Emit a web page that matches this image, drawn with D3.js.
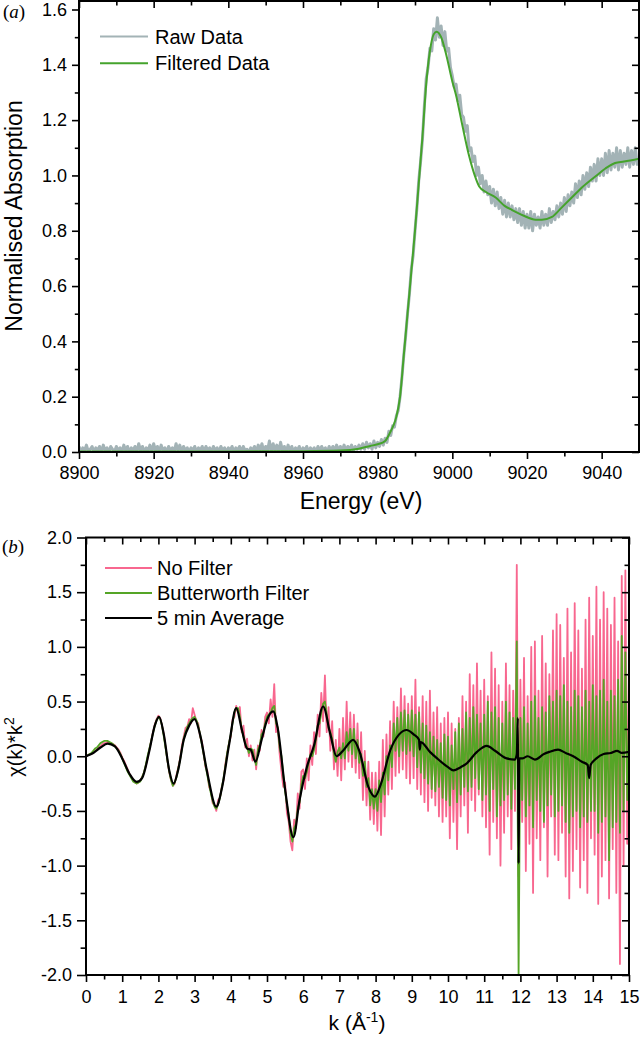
<!DOCTYPE html>
<html>
<head>
<meta charset="utf-8">
<script src="https://d3js.org/d3.v7.min.js"></script>
<style>
  body { margin: 0; background: #fff; }
  text { font-family: "Liberation Sans", Arial, sans-serif; }
</style>
</head>
<body>
<script>
// ---- panel (a) data ----  (raw sampled every 0.5 eV)
var energies = d3.range(0, 301).map(function(i) { return 8900 + i / 2; });
var rawAbs = [
  0.02,0.0,0.015,0.005,0.025,0.0,0.01,0.02,0.0,0.015,0.005,0.02,0.0,0.025,0.005,0.015,0.0,0.02,0.01,0.0,
  0.02,0.005,0.015,0.0,0.025,0.005,0.02,0.0,0.015,0.005,0.02,0.0,0.03,0.005,0.02,0.0,0.015,0.005,0.025,0.0,
  0.03,0.005,0.02,0.0,0.025,0.005,0.015,0.0,0.02,0.005,0.015,0.0,0.03,0.005,0.025,0.0,0.02,0.005,0.015,0.0,
  0.015,0.005,0.02,0.0,0.015,0.005,0.02,0.0,0.02,0.005,0.015,0.0,0.02,0.005,0.015,0.0,0.02,0.005,0.015,0.0,
  0.015,0.005,0.02,0.0,0.015,0.005,0.02,0.0,0.02,0.005,0.01,0.0,0.015,0.005,0.02,0.0,0.025,0.005,0.03,0.0,
  0.02,0.005,0.04,0.0,0.03,0.005,0.025,0.0,0.035,0.005,0.02,0.0,0.025,0.005,0.02,0.0,0.015,0.005,0.02,0.0,
  0.015,0.005,0.02,0.0,0.015,0.005,0.015,0.0,0.02,0.005,0.02,0.005,0.015,0.0,0.02,0.005,0.02,0.005,0.025,0.005,
  0.02,0.005,0.025,0.005,0.02,0.01,0.025,0.005,0.02,0.01,0.025,0.01,0.03,0.01,0.035,0.015,0.03,0.01,0.04,0.015,
  0.035,0.02,0.045,0.025,0.05,0.035,0.075,0.06,0.095,0.09,0.13,0.15,0.2,0.27,0.35,0.42,0.5,0.57,0.66,0.71,
  0.8,0.88,0.98,1.05,1.13,1.25,1.35,1.39,1.46,1.45,1.53,1.49,1.57,1.5,1.54,1.47,1.52,1.45,1.46,1.39,
  1.36,1.32,1.33,1.27,1.29,1.22,1.21,1.16,1.18,1.09,1.1,1.05,1.07,1.0,1.03,0.97,1.0,0.94,0.98,0.93,
  0.96,0.9,0.95,0.89,0.94,0.88,0.92,0.86,0.91,0.85,0.9,0.85,0.89,0.84,0.88,0.83,0.88,0.82,0.87,0.81,
  0.86,0.81,0.87,0.8,0.86,0.82,0.85,0.81,0.87,0.82,0.86,0.82,0.88,0.83,0.87,0.84,0.89,0.85,0.9,0.86,
  0.92,0.87,0.93,0.89,0.94,0.9,0.97,0.92,0.98,0.93,1.0,0.95,1.01,0.96,1.03,0.98,1.04,0.98,1.06,1.0,
  1.06,1.0,1.08,1.01,1.09,1.02,1.08,1.03,1.1,1.02,1.09,1.03,1.08,1.04,1.1,1.03,1.09,1.04,1.1,1.04,
  1.06
];
var filtEnergy = [8900,8940,8960,8970,8975,8978,8980,8982,8983.2,8984.2,8985,8986,8987,8988,8989,8990,8991,8992,8993,8994,8995,8995.8,8997,8998.3,9000,9001,9002.7,9004.5,9006,9007.2,9009,9011.6,9014,9016,9019,9022.3,9024,9026.7,9029,9032,9035,9038.3,9041,9043.6,9046,9050];
var filtAbs = [0.002,0.002,0.003,0.005,0.012,0.022,0.028,0.04,0.067,0.095,0.127,0.2,0.35,0.5,0.65,0.8,0.97,1.14,1.33,1.45,1.51,1.52,1.5,1.44,1.34,1.29,1.18,1.07,1.0,0.96,0.94,0.92,0.89,0.875,0.855,0.84,0.84,0.85,0.88,0.92,0.96,0.996,1.025,1.045,1.05,1.06];
var energyTicks = [8900, 8920, 8940, 8960, 8980, 9000, 9020, 9040];
var energyMinor = [8910, 8930, 8950, 8970, 8990, 9010, 9030];
var absTicks = [0, 0.2, 0.4, 0.6, 0.8, 1.0, 1.2, 1.4, 1.6];
var absMinor = [0.1, 0.3, 0.5, 0.7, 0.9, 1.1, 1.3, 1.5];
var legendA = ["Raw Data", "Filtered Data"];

// ---- panel (b) data ----  (noisy spectra sampled every 0.05 in k)
var kGrid = d3.range(0, 301).map(function(i) { return i / 20; });
var noFilter = [
  0,0.01,0.02,0.02,0.03,0.05,0.06,0.08,0.09,0.11,0.12,0.12,0.13,0.12,0.12,0.11,0.1,0.08,0.06,0.03,
  -0.01,-0.04,-0.08,-0.12,-0.16,-0.19,-0.22,-0.24,-0.25,-0.24,-0.22,-0.19,-0.15,-0.09,-0.02,0.06,0.14,0.22,0.29,0.34,
  0.37,0.35,0.28,0.2,0.08,-0.04,-0.15,-0.22,-0.27,-0.25,-0.17,-0.1,-0.02,0.1,0.18,0.26,0.27,0.34,0.3,0.44,
  0.38,0.32,0.3,0.18,0.14,0.02,-0.1,-0.13,-0.28,-0.32,-0.43,-0.45,-0.5,-0.4,-0.38,-0.28,-0.22,-0.07,0.03,0.12,
  0.18,0.34,0.36,0.46,0.4,0.45,0.22,0.28,0.08,0.16,0.0,0.1,-0.04,0.06,-0.12,0.1,0.05,0.24,0.18,0.36,
  0.4,0.3,0.52,0.36,0.66,0.22,0.25,0.02,-0.14,-0.28,-0.24,-0.52,-0.6,-0.78,-0.86,-0.58,-0.66,-0.34,-0.48,-0.14,
  -0.12,-0.3,-0.02,-0.22,0.1,-0.08,0.22,0.02,0.38,0.18,0.58,0.32,0.74,0.22,0.45,0.05,0.32,-0.12,0.15,-0.18,
  0.25,-0.22,0.35,-0.12,0.5,-0.05,0.4,-0.1,0.38,-0.15,0.3,-0.2,0.22,-0.4,0.05,-0.45,-0.05,-0.58,-0.15,-0.62,
  -0.15,-0.68,-0.05,-0.72,0.15,-0.55,0.2,-0.35,0.32,-0.3,0.5,-0.18,0.45,-0.15,0.62,-0.12,0.55,-0.2,0.48,-0.25,
  0.55,-0.2,0.7,-0.3,0.45,-0.35,0.55,-0.42,0.5,-0.5,0.6,-0.38,0.4,-0.45,0.45,-0.55,0.3,-0.6,0.35,-0.55,
  0.4,-0.75,0.3,-0.6,0.25,-0.85,0.35,-0.55,0.55,-0.45,0.5,-0.7,0.75,-0.4,0.65,-0.5,0.85,-0.35,0.6,-0.55,
  0.7,-0.65,0.55,-0.9,0.95,-0.6,0.8,-0.75,0.65,-1.0,0.5,-0.7,0.85,-0.55,0.65,-0.85,0.6,-0.5,1.75,-1.1,
  0.7,-0.6,0.9,-1.05,0.55,-0.8,1.0,-1.25,1.05,-0.75,0.6,-0.95,1.1,-0.65,0.85,-1.1,0.75,-0.55,1.15,-0.9,
  1.3,-0.95,1.2,-0.7,0.9,-1.1,1.35,-1.3,0.95,-1.05,1.4,-0.85,1.15,-1.2,0.8,-0.95,1.25,-1.25,1.45,-0.75,
  1.1,-0.9,1.55,-1.35,1.25,-1.1,1.5,-0.95,1.35,-1.3,1.2,-0.85,1.45,-1.25,1.05,-1.9,1.65,-1.0,1.7,-0.8,
  0.9
];
var butterworth = [
  0,0.01,0.02,0.03,0.05,0.07,0.08,0.1,0.12,0.13,0.14,0.14,0.14,0.13,0.12,0.11,0.09,0.07,0.05,0.02,
  -0.02,-0.06,-0.1,-0.14,-0.17,-0.2,-0.23,-0.24,-0.25,-0.24,-0.23,-0.19,-0.15,-0.08,0.0,0.07,0.14,0.21,0.28,0.33,
  0.36,0.34,0.28,0.18,0.07,-0.04,-0.14,-0.22,-0.27,-0.24,-0.19,-0.11,-0.03,0.07,0.16,0.22,0.27,0.3,0.33,0.35,
  0.36,0.33,0.28,0.2,0.11,0.02,-0.08,-0.17,-0.26,-0.34,-0.41,-0.46,-0.48,-0.44,-0.38,-0.29,-0.2,-0.09,0.03,0.12,
  0.2,0.31,0.4,0.44,0.44,0.36,0.25,0.18,0.12,0.08,0.03,0.07,0.06,-0.02,-0.08,0.06,0.1,0.2,0.22,0.3,
  0.36,0.38,0.4,0.44,0.46,0.3,0.26,0.08,0.0,-0.18,-0.32,-0.44,-0.54,-0.7,-0.78,-0.66,-0.62,-0.48,-0.42,-0.26,
  -0.18,-0.2,-0.14,-0.06,0.02,0.0,0.06,0.15,0.28,0.3,0.4,0.48,0.5,0.38,0.26,0.22,0.16,0.02,-0.05,0.04,
  0.08,-0.02,0.12,-0.02,0.22,0.05,0.25,0.02,0.25,-0.02,0.15,-0.06,0.02,-0.18,-0.05,-0.28,-0.2,-0.45,-0.3,-0.48,
  -0.3,-0.5,-0.22,-0.42,-0.15,-0.35,0.0,-0.22,0.1,-0.1,0.3,0.05,0.35,0.0,0.4,0.05,0.42,0.02,0.38,0.05,
  0.42,0.0,0.38,-0.1,0.4,-0.15,0.3,-0.2,0.28,-0.25,0.22,-0.3,0.18,-0.32,0.15,-0.28,0.12,-0.38,0.2,-0.4,
  0.18,-0.45,0.1,-0.3,0.22,-0.42,0.3,-0.35,0.25,-0.28,0.4,-0.32,0.35,-0.28,0.45,-0.2,0.38,-0.3,0.3,-0.4,
  0.38,-0.35,0.5,-0.5,0.4,-0.3,0.45,-0.55,0.35,-0.45,0.3,-0.4,0.5,-0.35,0.4,-0.48,0.35,-0.3,1.05,-2.0,
  0.35,-0.4,0.45,-0.55,0.3,-0.45,0.5,-0.65,0.55,-0.4,0.35,-0.5,0.45,-0.6,0.4,-0.45,0.55,-0.35,0.5,-0.55,
  0.6,-0.5,0.55,-0.45,0.65,-0.6,0.5,-0.7,0.45,-0.55,0.6,-0.5,0.55,-0.65,0.45,-0.55,0.6,-0.6,0.5,-0.5,
  0.65,-0.5,0.55,-0.7,0.6,-0.6,0.7,-0.55,0.5,-0.95,0.6,-0.65,0.55,-0.6,0.7,-0.7,1.1,-0.5,0.95,-0.4,
  0.3
];
var kAvg = [0,0.2,0.4,0.6,0.8,1.0,1.2,1.4,1.55,1.75,1.9,2.02,2.15,2.3,2.42,2.55,2.7,2.85,3.0,3.15,3.35,3.6,3.75,3.95,4.15,4.3,4.45,4.55,4.68,4.85,5.0,5.17,5.3,5.5,5.73,5.9,6.1,6.3,6.55,6.75,6.92,7.1,7.38,7.55,7.8,7.98,8.15,8.4,8.65,8.86,9.05,9.2,9.22,9.25,9.5,9.7,10.0,10.15,10.35,10.5,10.8,11.07,11.3,11.62,11.85,11.9,11.93,11.95,11.97,12.05,12.2,12.4,12.65,12.8,13.04,13.25,13.46,13.7,13.86,13.9,13.94,14.1,14.3,14.5,14.67,14.8,15.0];
var avgChi = [0,0.03,0.08,0.115,0.09,-0.02,-0.16,-0.235,-0.2,0.05,0.28,0.36,0.2,-0.13,-0.25,-0.12,0.15,0.28,0.34,0.2,-0.15,-0.46,-0.3,0.1,0.44,0.25,0.07,0.06,-0.05,0.15,0.33,0.41,0.25,-0.3,-0.74,-0.4,-0.1,0.1,0.455,0.2,0.0,0.05,0.15,0.05,-0.28,-0.37,-0.25,0.05,0.2,0.24,0.2,0.15,0.06,0.13,0.04,-0.02,-0.1,-0.13,-0.1,-0.07,0.04,0.095,0.05,-0.02,-0.03,0.02,0.35,-0.98,-0.02,-0.02,0.0,-0.03,0.02,0.04,0.06,0.03,0.0,-0.05,-0.08,-0.2,-0.08,-0.02,0.02,0.03,0.05,0.03,0.04];
var kTicks = d3.range(0, 16);
var kMinor = d3.range(0, 15).map(function(i) { return i + 0.5; });
var chiTicks = [-2, -1.5, -1, -0.5, 0, 0.5, 1, 1.5, 2];
var chiMinor = [-1.75, -1.25, -0.75, -0.25, 0.25, 0.75, 1.25, 1.75];
var legendB = ["No Filter", "Butterworth Filter", "5 min Average"];

var colRaw = "#a3b3b6", colFilt = "#45a32c";
var colPink = "#f8678f", colGreen = "#55a526", colBlack = "#000000";

var svg = d3.select("body").append("svg")
  .attr("width", 640)
  .attr("height", 1038);

var fmt1 = function(d) { return d.toFixed(1); };

// draws frame + 4 axes (left/bottom out, top/right in)
function drawFrame(g, x, y, xt, xm, yt, ym, xfmt, yfmt, o) {
  var x0 = x.range()[0], x1 = x.range()[1];
  var yb = o.bottom, yt0 = o.top;
  var styleAxis = function(sel) {
    sel.select(".domain").remove();
    sel.selectAll("line").attr("stroke", "#000").attr("stroke-width", 1.6);
    sel.selectAll("text").attr("fill", "#000")
      .attr("font-family", "'Liberation Sans', Arial, sans-serif").attr("font-size", 18);
  };
  g.append("g").attr("transform", "translate(" + x0 + ",0)")
    .call(d3.axisLeft(y).tickValues(yt).tickSize(o.ly).tickPadding(5).tickFormat(yfmt)).call(styleAxis);
  g.append("g").attr("transform", "translate(" + x0 + ",0)")
    .call(d3.axisLeft(y).tickValues(ym).tickSize(o.ly * 0.6).tickFormat("")).call(styleAxis);
  g.append("g").attr("transform", "translate(0," + yb + ")")
    .call(d3.axisBottom(x).tickValues(xt).tickSize(7).tickPadding(o.px).tickFormat(xfmt)).call(styleAxis);
  g.append("g").attr("transform", "translate(0," + yb + ")")
    .call(d3.axisBottom(x).tickValues(xm).tickSize(4.5).tickFormat("")).call(styleAxis);
  g.append("g").attr("transform", "translate(0," + yt0 + ")")
    .call(d3.axisTop(x).tickValues(xt).tickSize(-7).tickFormat("")).call(styleAxis);
  g.append("g").attr("transform", "translate(0," + yt0 + ")")
    .call(d3.axisTop(x).tickValues(xm).tickSize(-4.5).tickFormat("")).call(styleAxis);
  g.append("g").attr("transform", "translate(" + x1 + ",0)")
    .call(d3.axisRight(y).tickValues(yt).tickSize(-7).tickFormat("")).call(styleAxis);
  g.append("g").attr("transform", "translate(" + x1 + ",0)")
    .call(d3.axisRight(y).tickValues(ym).tickSize(-4.5).tickFormat("")).call(styleAxis);
  g.append("rect")
    .attr("x", x0).attr("y", yt0)
    .attr("width", x1 - x0).attr("height", yb - yt0)
    .attr("fill", "none").attr("stroke", "#000").attr("stroke-width", 2);
}

function legend(g, names, cols, lx, ly, dy, tx) {
  names.forEach(function(n, i) {
    g.append("line")
      .attr("x1", lx[0]).attr("x2", lx[1])
      .attr("y1", ly + i * dy).attr("y2", ly + i * dy)
      .attr("stroke", cols[i]).attr("stroke-width", 2);
    g.append("text").text(n)
      .attr("x", tx).attr("y", ly + i * dy + 7)
      .attr("font-size", 20).attr("fill", "#000");
  });
}

// ================= panel (a) =================
var xA = d3.scaleLinear().domain([8900, 9050]).range([79, 639]);
var yA = d3.scaleLinear().domain([0, 1.6]).range([452, 9.5]);
var gA = svg.append("g");

svg.append("clipPath").attr("id", "clipA").append("rect")
  .attr("x", 79).attr("y", 1).attr("width", 560).attr("height", 451);

var lineA = d3.line().x(function(d) { return xA(d[0]); }).y(function(d) { return yA(d[1]); });

gA.append("path")
  .datum(energies.map(function(e, i) { return [e, rawAbs[i]]; }))
  .attr("clip-path", "url(#clipA)")
  .attr("d", lineA)
  .attr("fill", "none").attr("stroke", colRaw).attr("stroke-width", 3)
  .attr("stroke-linejoin", "round");

gA.append("path")
  .datum(filtEnergy.map(function(e, i) { return [e, filtAbs[i]]; }))
  .attr("clip-path", "url(#clipA)")
  .attr("d", lineA.curve(d3.curveMonotoneX))
  .attr("fill", "none").attr("stroke", colFilt).attr("stroke-width", 2);

drawFrame(gA, xA, yA, energyTicks, energyMinor, absTicks, absMinor, d3.format("d"), fmt1,
  { top: 1, bottom: 452, ly: 7, px: 7 });

legend(gA, legendA, [colRaw, colFilt], [100, 148], 36.5, 26.7, 155);

gA.append("text").text("Energy (eV)")
  .attr("x", 361).attr("y", 509)
  .attr("text-anchor", "middle").attr("font-size", 23).attr("fill", "#000");
gA.append("text").text("Normalised Absorption")
  .attr("transform", "translate(22,216) rotate(-90)")
  .attr("text-anchor", "middle").attr("font-size", 23).attr("fill", "#000");

var labA = gA.append("text").attr("x", 3).attr("y", 18)
  .attr("font-size", 19).style("font-family", "'Liberation Serif', 'Times New Roman', serif");
labA.append("tspan").text("(");
labA.append("tspan").text("a").attr("font-style", "italic");
labA.append("tspan").text(")");

// ================= panel (b) =================
var xB = d3.scaleLinear().domain([0, 15]).range([86, 629]);
var yB = d3.scaleLinear().domain([-2, 2]).range([975, 537.5]);
var gB = svg.append("g");

svg.append("clipPath").attr("id", "clipB").append("rect")
  .attr("x", 86).attr("y", 537.5).attr("width", 543).attr("height", 437.5);

var lineB = d3.line().x(function(d) { return xB(d[0]); }).y(function(d) { return yB(d[1]); });

gB.append("path")
  .datum(kGrid.map(function(k, i) { return [k, noFilter[i]]; }))
  .attr("clip-path", "url(#clipB)")
  .attr("d", lineB)
  .attr("fill", "none").attr("stroke", colPink).attr("stroke-width", 1.8)
  .attr("stroke-linejoin", "round");

gB.append("path")
  .datum(kGrid.map(function(k, i) { return [k, butterworth[i]]; }))
  .attr("clip-path", "url(#clipB)")
  .attr("d", lineB)
  .attr("fill", "none").attr("stroke", colGreen).attr("stroke-width", 1.8)
  .attr("stroke-linejoin", "round");

gB.append("path")
  .datum(kAvg.map(function(k, i) { return [k, avgChi[i]]; }))
  .attr("clip-path", "url(#clipB)")
  .attr("d", d3.line().x(function(d) { return xB(d[0]); }).y(function(d) { return yB(d[1]); }).curve(d3.curveMonotoneX))
  .attr("fill", "none").attr("stroke", colBlack).attr("stroke-width", 2.2);

drawFrame(gB, xB, yB, kTicks, kMinor, chiTicks, chiMinor, d3.format("d"), fmt1,
  { top: 537.5, bottom: 975, ly: 9, px: 8 });

legend(gB, legendB, [colPink, colGreen, colBlack], [105, 152], 568, 25, 157);

var kTitle = gB.append("text").attr("x", 357).attr("y", 1030)
  .attr("text-anchor", "middle").attr("font-size", 21).attr("fill", "#000");
kTitle.append("tspan").text("k (Å");
kTitle.append("tspan").text("-1").attr("font-size", 14).attr("dy", -8);
kTitle.append("tspan").text(")").attr("dy", 8);

var chiTitle = gB.append("text")
  .attr("transform", "translate(22,747) rotate(-90)")
  .attr("text-anchor", "middle").attr("font-size", 20).attr("fill", "#000");
chiTitle.append("tspan").text("χ(k)*k");
chiTitle.append("tspan").text("2").attr("font-size", 14).attr("dy", -8);

var labB = gB.append("text").attr("x", 2).attr("y", 553)
  .attr("font-size", 19).style("font-family", "'Liberation Serif', 'Times New Roman', serif");
labB.append("tspan").text("(");
labB.append("tspan").text("b").attr("font-style", "italic");
labB.append("tspan").text(")");
</script>
</body>
</html>
